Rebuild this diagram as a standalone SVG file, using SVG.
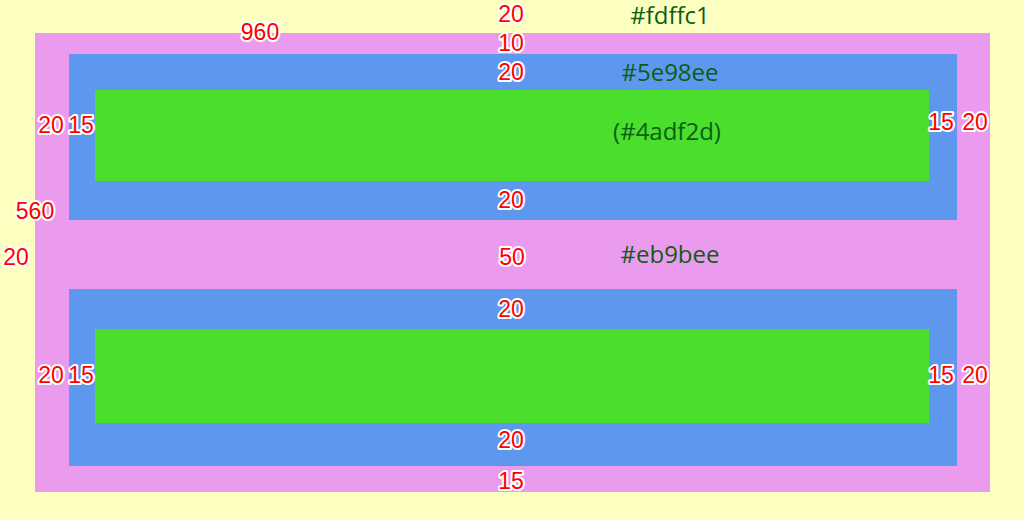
<svg xmlns="http://www.w3.org/2000/svg" width="1024" height="520" viewBox="0 0 1024 520">
<style>
.n{font-family:"Liberation Sans","Open Sans",sans-serif;font-size:23px;fill:#ff0000;stroke:#ffffff;stroke-width:4px;paint-order:stroke;stroke-linejoin:round;text-anchor:middle}
.c{font-family:"Open Sans","Noto Sans",sans-serif;font-size:24px;fill:#0b5e12;text-anchor:middle}
</style>
<rect id="background" x="0" y="0" width="1024" height="520" fill="#fdffc1"/>
<g id="outer"><rect x="35" y="33" width="955" height="459" fill="#eb9bee"/></g>
<g id="blue1"><rect x="69" y="54" width="888" height="166" fill="#5e98ee"/></g>
<g id="green1"><rect x="95" y="90" width="834" height="91" fill="#4adf2d"/></g>
<g id="blue2"><rect x="69" y="289" width="888" height="177" fill="#5e98ee"/></g>
<g id="green2"><rect x="95" y="329" width="834" height="94" fill="#4adf2d"/></g>
<g id="connectors"></g>
<g id="labels">
<text class="c" x="670" y="24">#fdffc1</text>
<text class="c" x="670" y="81">#5e98ee</text>
<text class="c" x="667" y="140">(#4adf2d)</text>
<text class="c" x="670" y="263">#eb9bee</text>
<text class="n" x="260" y="40">960</text>
<text class="n" x="511" y="22">20</text>
<text class="n" x="511" y="51">10</text>
<text class="n" x="511" y="80">20</text>
<text class="n" x="51" y="133">20</text>
<text class="n" x="81" y="133">15</text>
<text class="n" x="941" y="130">15</text>
<text class="n" x="975" y="130">20</text>
<text class="n" x="35" y="219">560</text>
<text class="n" x="16" y="265">20</text>
<text class="n" x="511" y="208">20</text>
<text class="n" x="512" y="265">50</text>
<text class="n" x="511" y="317">20</text>
<text class="n" x="51" y="383">20</text>
<text class="n" x="81" y="383">15</text>
<text class="n" x="941" y="383">15</text>
<text class="n" x="975" y="383">20</text>
<text class="n" x="511" y="448">20</text>
<text class="n" x="511" y="489">15</text>
</g>
</svg>
